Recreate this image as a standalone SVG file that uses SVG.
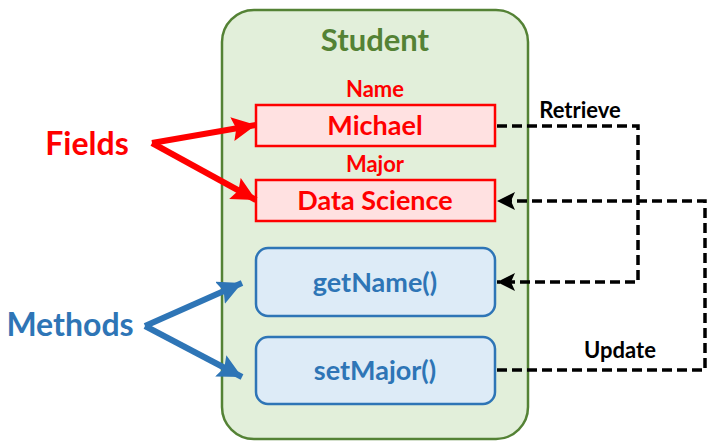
<svg xmlns="http://www.w3.org/2000/svg" width="718" height="446" viewBox="0 0 718 446">
<style>
text{font-family:Lato,"Open Sans","Liberation Sans",sans-serif;font-weight:bold;text-anchor:middle}
.field{fill:#ffe1e1;stroke:#ff0000;stroke-width:2.5}
.meth{fill:#ddebf7;stroke:#2e75b6;stroke-width:2.5}
.dash{fill:none;stroke:#000;stroke-width:3.5;stroke-dasharray:10 5}
.red{stroke:#ff0000;stroke-width:6;fill:none}
.blue{stroke:#2e75b6;stroke-width:6;fill:none}
</style>
<defs>
<marker id="ak" markerUnits="userSpaceOnUse" markerWidth="20" markerHeight="18" refX="18" refY="9" orient="auto"><path d="M0,0 L18,9 L0,18 L4,9 Z" fill="#000"/></marker>
<marker id="ar" markerUnits="userSpaceOnUse" markerWidth="26" markerHeight="26" refX="24" refY="12" orient="auto"><path d="M0,0 L24,12 L0,24 L4,12 Z" fill="#ff0000"/></marker>
<marker id="ab" markerUnits="userSpaceOnUse" markerWidth="26" markerHeight="26" refX="24" refY="12" orient="auto"><path d="M0,0 L24,12 L0,24 L4,12 Z" fill="#2e75b6"/></marker>
</defs>
<g id="student">
<rect x="222" y="10" width="306" height="429" rx="32" fill="#e2efda" stroke="#548235" stroke-width="2.5"/>
<text x="375" y="51" font-size="31" fill="#548235">Student</text>
</g>
<g id="name">
<text x="375" y="97" font-size="22" fill="#ff0000">Name</text>
<rect class="field" x="256" y="105" width="239" height="41"/>
<text x="375" y="135" font-size="27" fill="#ff0000">Michael</text>
</g>
<g id="major">
<text x="375" y="172" font-size="22" fill="#ff0000">Major</text>
<rect class="field" x="256" y="180" width="239" height="41"/>
<text x="375" y="210" font-size="27" fill="#ff0000">Data Science</text>
</g>
<g id="getName">
<rect class="meth" x="256" y="248" width="239" height="68" rx="12"/>
<text x="375" y="292" font-size="27" fill="#2e75b6">getName()</text>
</g>
<g id="setMajor">
<rect class="meth" x="256" y="337" width="239" height="67" rx="12"/>
<text x="375" y="380" font-size="27" fill="#2e75b6">setMajor()</text>
</g>
<g id="fields">
<text x="87" y="155" font-size="32" fill="#ff0000">Fields</text>
</g>
<g id="methods">
<text x="70" y="336" font-size="32" fill="#2e75b6">Methods</text>
</g>
<g id="connectors">
<path class="red" d="M152,143 L256,125" marker-end="url(#ar)"/>
<path class="red" d="M152,143 L256,200" marker-end="url(#ar)"/>
<path class="blue" d="M145,326 L242,283" marker-end="url(#ab)"/>
<path class="blue" d="M145,326 L242,377" marker-end="url(#ab)"/>
<path class="dash" d="M497,126 H638 V282 H497" marker-end="url(#ak)"/>
<path class="dash" d="M497,370 H705 V201 H497" marker-end="url(#ak)"/>
<text x="580" y="118" font-size="22" fill="#000">Retrieve</text>
<text x="620" y="358" font-size="22" fill="#000">Update</text>
</g>
</svg>
